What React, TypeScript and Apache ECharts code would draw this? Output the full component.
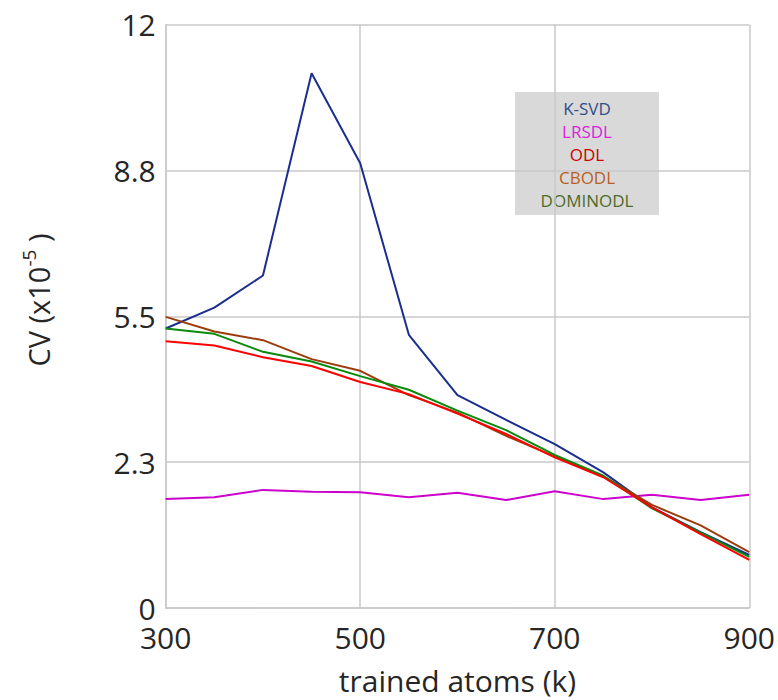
import React, { useEffect, useRef } from "react";
import * as echarts from "echarts";

const xValues = [300, 350, 400, 450, 500, 550, 600, 650, 700, 750, 800, 850, 900];
const seriesNames = ["K-SVD", "LRSDL", "ODL", "CBODL", "DOMINODL"];
const ksvd = [5.75, 6.18, 6.84, 11.0, 9.15, 5.62, 4.38, 3.87, 3.37, 2.79, 2.07, 1.56, 1.09];
const lrsdl = [2.24, 2.28, 2.43, 2.39, 2.38, 2.28, 2.37, 2.22, 2.4, 2.24, 2.33, 2.22, 2.33];
const odl = [5.49, 5.4, 5.16, 4.98, 4.65, 4.4, 4.0, 3.58, 3.1, 2.69, 2.07, 1.52, 0.99];
const cbodl = [5.99, 5.69, 5.51, 5.12, 4.88, 4.38, 4.02, 3.54, 3.12, 2.71, 2.12, 1.7, 1.15];
const dominodl = [5.75, 5.64, 5.27, 5.07, 4.77, 4.49, 4.06, 3.66, 3.15, 2.72, 2.05, 1.55, 1.05];
const yTickLabels = ["0", "2.3", "5.5", "8.8", "12"];
const yAxisTitle = "CV (x10{sup|-5} )";
const xAxisTitle = "trained atoms (k)";

const lineColors = ["#1a2e8e", "#cc00cc", "#ff0000", "#9c3c0c", "#0a8a0a"];
const legendTextColors = ["#2f4f8a", "#dd22dd", "#cc0000", "#b8601e", "#4f6b28"];

const FONT = "'Open Sans', 'Noto Sans', sans-serif";
const TEXT_COLOR = "#262626";

export default function App() {
  const ref = useRef<HTMLDivElement>(null);
  useEffect(() => {
    if (!ref.current) return;
    const chart = echarts.init(ref.current, null, { renderer: "svg" });
    const dataSets = [ksvd, lrsdl, odl, cbodl, dominodl];
    const order = [0, 1, 3, 4, 2];
    const series = order.map((i) => ({
      name: seriesNames[i],
      type: "line",
      data: xValues.map((x, k) => [x, dataSets[i][k]]),
      showSymbol: false,
      symbol: "none",
      lineStyle: { color: lineColors[i], width: 2 },
      itemStyle: { color: lineColors[i] },
      z: 2,
    }));
    const legendX = 587;
    const legendY0 = 108;
    const legendStep = 23;
    chart.setOption({
      animation: false,
      textStyle: { fontFamily: FONT },
      grid: { left: 165.7, right: 26.3, top: 24.7, bottom: 90.7, containLabel: false },
      xAxis: {
        type: "value",
        min: 300,
        max: 900,
        interval: 200,
        name: xAxisTitle,
        nameLocation: "middle",
        nameGap: 57,
        nameTextStyle: { fontSize: 30, color: TEXT_COLOR, fontFamily: FONT },
        axisLine: { show: true, lineStyle: { color: "#c8c8c8", width: 1.5 } },
        axisTick: { show: false },
        axisLabel: { fontSize: 30, color: TEXT_COLOR, margin: 14, fontFamily: FONT },
        splitLine: { show: true, lineStyle: { color: "#c8c8c8", width: 1.5 } },
      },
      yAxis: {
        type: "value",
        min: 0,
        max: 12,
        interval: 3,
        axisLine: { show: true, lineStyle: { color: "#c8c8c8", width: 1.5 } },
        axisTick: { show: false },
        axisLabel: {
          fontSize: 30,
          color: TEXT_COLOR,
          margin: 10,
          fontFamily: FONT,
          formatter: (v: number) => yTickLabels[Math.round(v / 3)] ?? "",
        },
        splitLine: { show: true, lineStyle: { color: "#c8c8c8", width: 1.5 } },
      },
      graphic: [
        {
          type: "text",
          x: 38,
          y: 300,
          rotation: Math.PI / 2,
          style: {
            text: yAxisTitle,
            fontSize: 29,
            fill: TEXT_COLOR,
            fontFamily: FONT,
            align: "center",
            verticalAlign: "middle",
            rich: {
              sup: { fontSize: 19, fill: TEXT_COLOR, fontFamily: FONT, padding: [0, 0, 18, 0] },
            },
          },
        },
        {
          type: "group",
          z: 10,
          children: [
            {
              type: "rect",
              shape: { x: 515, y: 92, width: 144, height: 123 },
              style: { fill: "#d9d9d9" },
            },
            ...seriesNames.map((n, i) => ({
              type: "text",
              x: legendX,
              y: legendY0 + i * legendStep,
              style: {
                text: n,
                fill: legendTextColors[i],
                fontSize: 17,
                fontFamily: FONT,
                align: "center",
                verticalAlign: "middle",
              },
            })),
          ],
        },
      ],
      series,
    });
    return () => chart.dispose();
  }, []);
  return (
    <div
      ref={ref}
      style={{ position: "fixed", left: 0, top: 0, width: 778, height: 700, background: "#fff" }}
    />
  );
}
